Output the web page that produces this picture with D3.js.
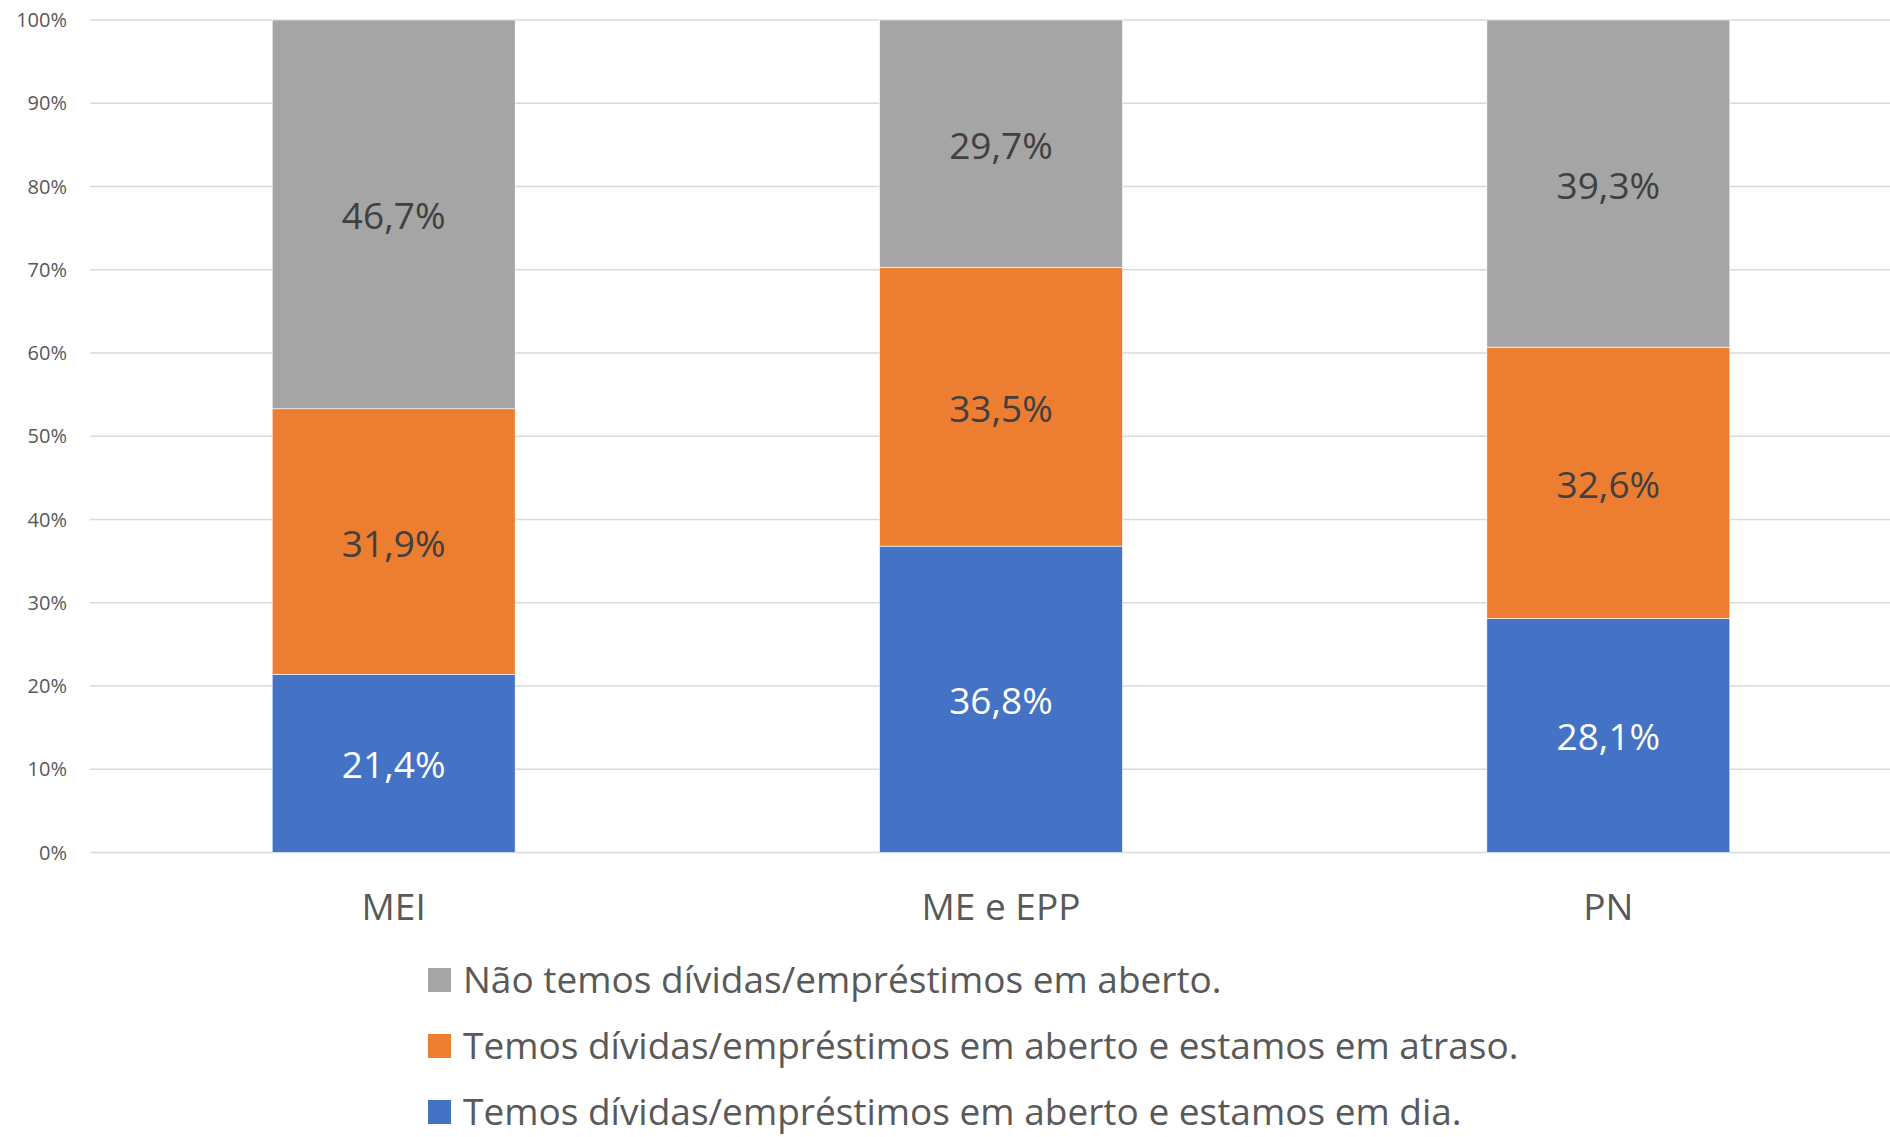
<!DOCTYPE html>
<html>
<head>
<meta charset="utf-8">
<script src="https://cdn.jsdelivr.net/npm/d3@7"></script>
<style>
  html, body { margin: 0; padding: 0; background: #fff; }
  svg { display: block; font-family: "Open Sans", "Noto Sans", sans-serif; }
</style>
</head>
<body>
<svg id="chart" width="1890" height="1137"></svg>
<script>
// categories and the three stacked series (percent)
const categories = ['MEI', 'ME e EPP', 'PN'];
const seriesNames = [
  'Temos dívidas/empréstimos em aberto e estamos em dia.',
  'Temos dívidas/empréstimos em aberto e estamos em atraso.',
  'Não temos dívidas/empréstimos em aberto.'
];
const emDia = [21.4, 36.8, 28.1];
const emAtraso = [31.9, 33.5, 32.6];
const semDividas = [46.7, 29.7, 39.3];
const yTicks = [0, 10, 20, 30, 40, 50, 60, 70, 80, 90, 100];

const colors = ['#4472C4', '#ED7D31', '#A5A5A5'];
const labelColors = ['#ffffff', '#404040', '#404040'];

(function () {
  const svg = d3.select('#chart');
  const plotLeft = 90, plotRight = 1912, plotTop = 20, plotBottom = 852.5;

  const x = d3.scaleBand().domain(categories).range([plotLeft, plotRight]).paddingInner(0.6).paddingOuter(0.3);
  const y = d3.scaleLinear().domain([0, 100]).range([plotBottom, plotTop]);

  // gridlines
  svg.append('g').selectAll('line').data(yTicks).enter().append('line')
    .attr('x1', plotLeft).attr('x2', plotRight)
    .attr('y1', (d) => y(d)).attr('y2', (d) => y(d))
    .attr('stroke', '#D9D9D9').attr('stroke-width', 1.5);

  // y axis labels
  svg.append('g').selectAll('text').data(yTicks).enter().append('text')
    .attr('x', 67).attr('y', (d) => y(d)).attr('dy', '0.35em')
    .attr('text-anchor', 'end').attr('font-size', 20).attr('fill', '#595959')
    .text((d) => d + '%');

  // stack
  const rows = categories.map((c, i) => ({ cat: c, s0: emDia[i], s1: emAtraso[i], s2: semDividas[i] }));
  const stacked = d3.stack().keys(['s0', 's1', 's2'])(rows);

  const layer = svg.append('g').selectAll('g').data(stacked).enter().append('g')
    .attr('fill', (d, i) => colors[i]);

  layer.selectAll('rect').data((d) => d).enter().append('rect')
    .attr('x', (d) => x(d.data.cat))
    .attr('width', x.bandwidth())
    .attr('y', (d) => y(d[1]))
    .attr('height', (d) => y(d[0]) - y(d[1]))
    .attr('stroke', '#ffffff').attr('stroke-width', 0.6);

  // value labels
  stacked.forEach((s, i) => {
    svg.append('g').selectAll('text').data(s).enter().append('text')
      .attr('x', (d) => x(d.data.cat) + x.bandwidth() / 2)
      .attr('y', (d) => y((d[0] + d[1]) / 2) + 2)
      .attr('dy', '0.35em').attr('text-anchor', 'middle')
      .attr('font-size', 37).attr('fill', labelColors[i])
      .text((d) => (d[1] - d[0]).toFixed(1).replace('.', ',') + '%');
  });

  // category labels
  svg.append('g').selectAll('text').data(categories).enter().append('text')
    .attr('x', (d) => x(d) + x.bandwidth() / 2).attr('y', 907).attr('dy', '0.35em')
    .attr('text-anchor', 'middle').attr('font-size', 37).attr('fill', '#595959')
    .text((d) => d);

  // legend (top to bottom: gray, orange, blue)
  const legendOrder = [2, 1, 0];
  const legend = svg.append('g').selectAll('g').data(legendOrder).enter().append('g')
    .attr('transform', (d, i) => 'translate(428,' + (980 + i * 66) + ')');
  legend.append('rect').attr('x', 0).attr('y', -12).attr('width', 23).attr('height', 24)
    .attr('fill', (d) => colors[d]);
  legend.append('text').attr('x', 35).attr('y', 0).attr('dy', '0.35em')
    .attr('font-size', 37).attr('fill', '#595959')
    .text((d) => seriesNames[d]);
})();
</script>
</body>
</html>
